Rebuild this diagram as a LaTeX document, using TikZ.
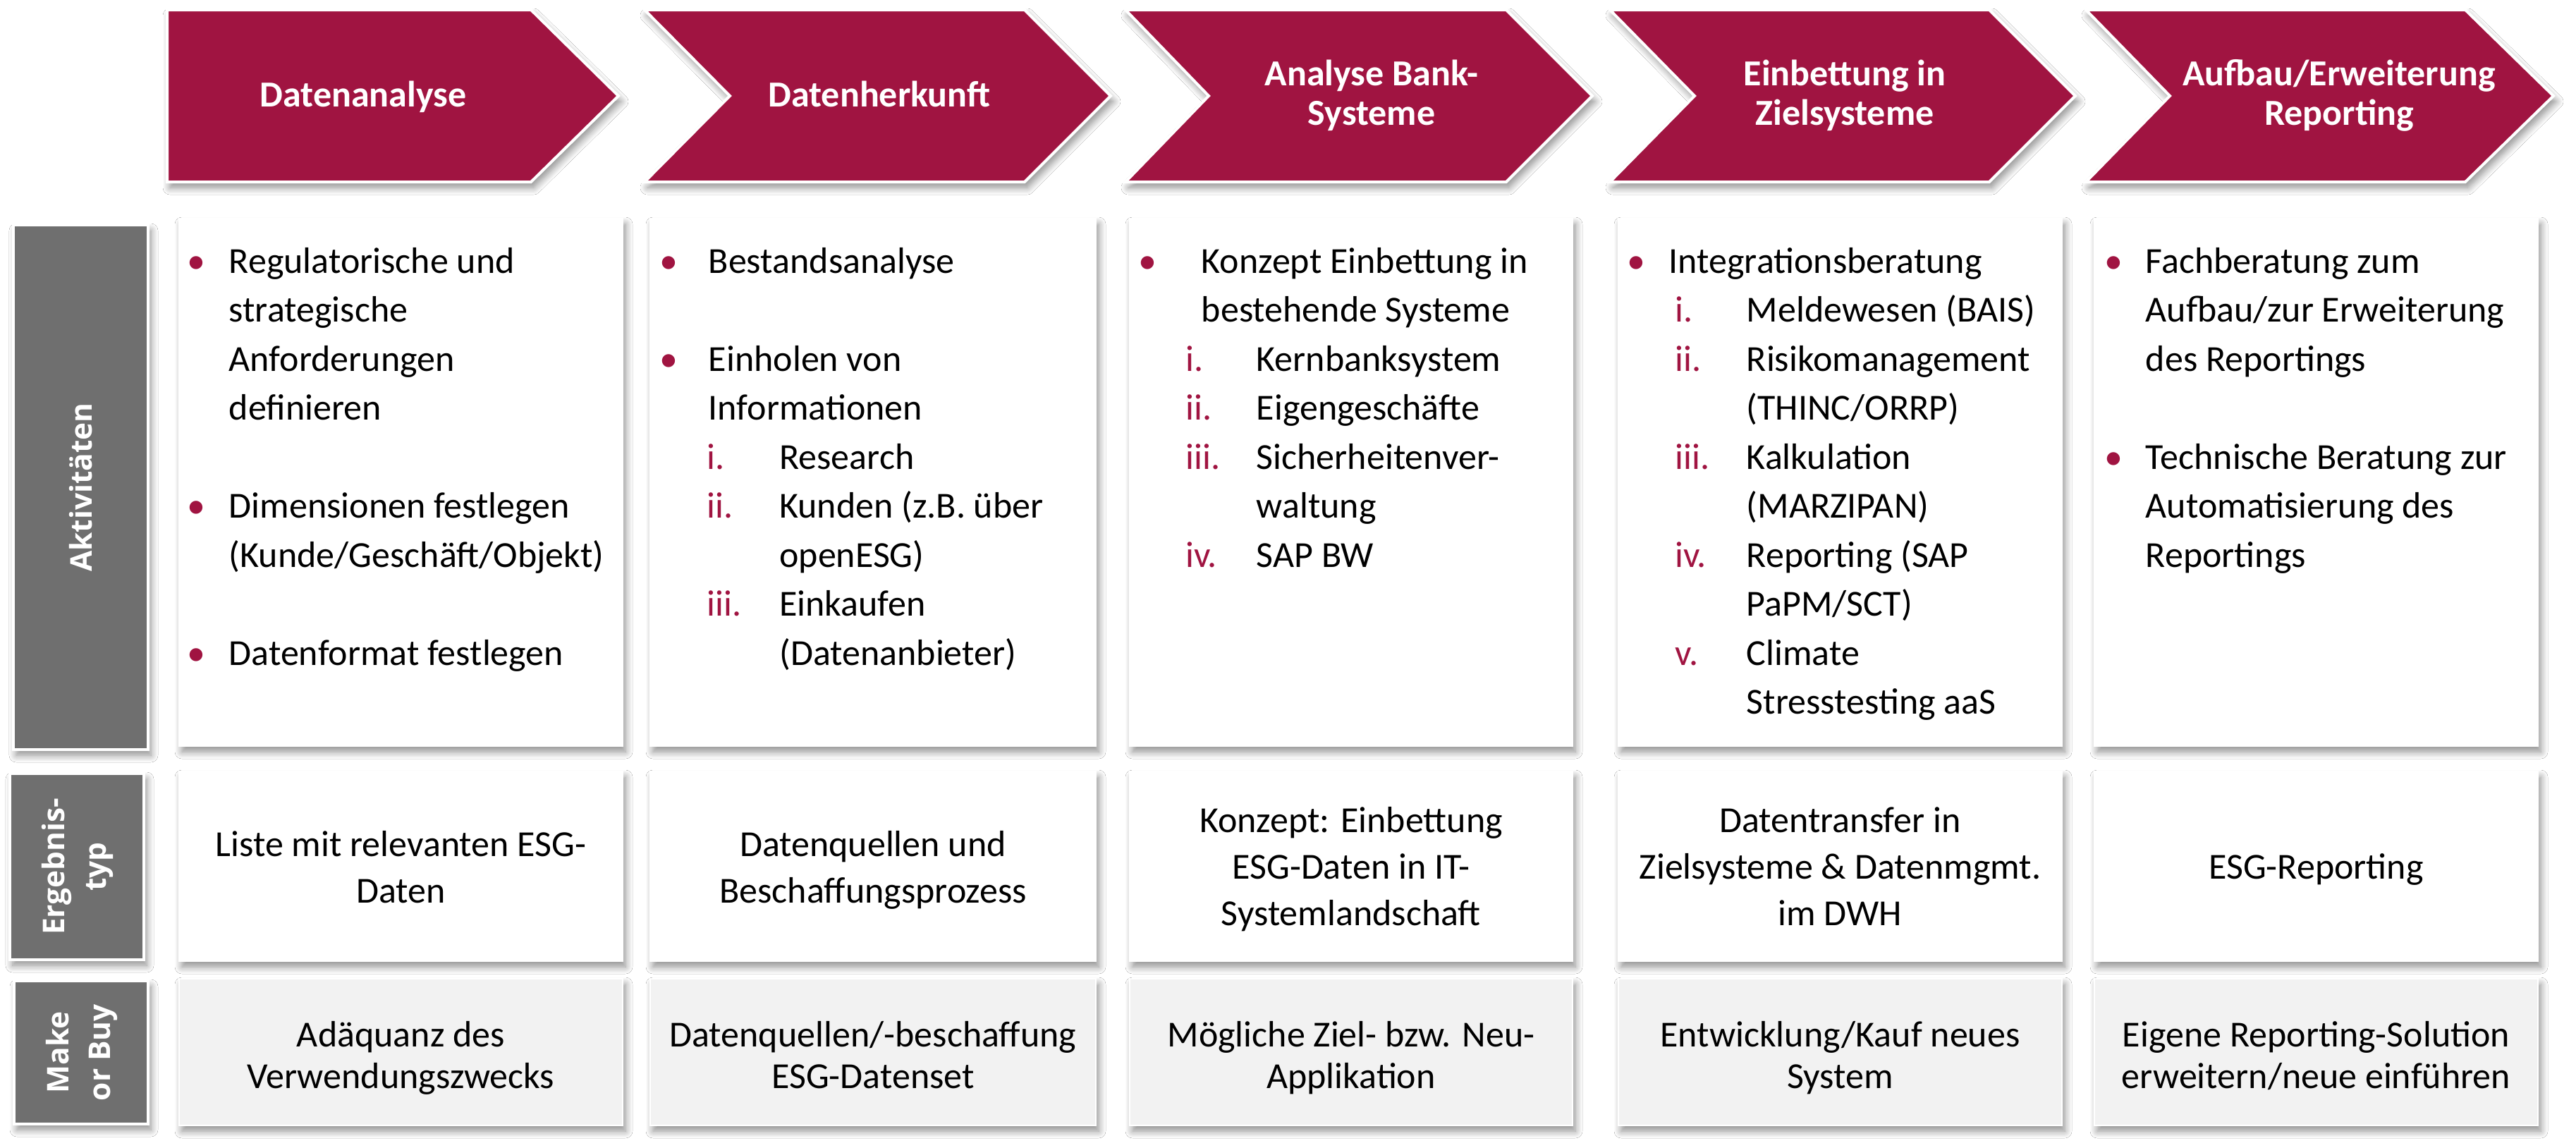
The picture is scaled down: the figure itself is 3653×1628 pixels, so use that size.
\documentclass[tikz,border=0pt]{standalone}
\usepackage{fontspec}
\setmainfont{Carlito}
\newfontfamily\labelfont{Open Sans}
\usetikzlibrary{fit,shadows.blur}
\definecolor{wine}{HTML}{A01441}
\definecolor{lblgray}{HTML}{6F6F6F}
\definecolor{mkgray}{HTML}{F2F2F2}
\newdimen\unitpx \unitpx=0.25pt
\newlength\bOff \newlength\tInd \newlength\nInd \newlength\sInd
\newcommand\colset[4]{\setlength\bOff{#1\unitpx}\setlength\tInd{#2\unitpx}\setlength\nInd{#3\unitpx}\setlength\sInd{#4\unitpx}}
\newcommand\bull[1]{\rlap{\hspace*{\bOff}\makebox[0pt]{\textcolor{wine}{\textbullet}}}\hspace*{\tInd}#1}
\newcommand\contl[1]{\hspace*{\tInd}#1}
\newcommand\numl[2]{\rlap{\hspace*{\nInd}\textcolor{wine}{#1}}\hspace*{\sInd}#2}
\newcommand\subl[1]{\hspace*{\sInd}#1}
\tikzset{
  shad/.style={blur shadow={shadow xshift=1pt, shadow yshift=-2pt, shadow blur radius=2.5pt, shadow blur steps=10, shadow opacity=45}},
  chev/.style={fill=wine, draw=white, line width=1pt, line join=miter, shad},
  box/.style={inner sep=0pt, draw=white, line width=0.6pt, shad},
  actbox/.style={box, fill=white},
  erbox/.style={box, fill=white},
  mkbox/.style={box, fill=mkgray},
  lblbox/.style={box, fill=lblgray, draw=white, line width=1pt},
  headtext/.style={anchor=base, inner sep=0pt, text=white, font=\fontsize{13pt}{14pt}\selectfont\bfseries},
  acttext/.style={anchor=base west, inner sep=0pt, text=black, font=\fontsize{13pt}{17.375pt}\selectfont},
  ertext/.style={anchor=base, inner sep=0pt, text=black, font=\fontsize{13pt}{16.5pt}\selectfont},
  mktext/.style={anchor=base, inner sep=0pt, text=black, font=\fontsize{13pt}{14.75pt}\selectfont},
  lbltext/.style={anchor=center, inner sep=0pt, rotate=90, text=white, font=\fontsize{10.6pt}{14.75pt}\selectfont\labelfont\bfseries}
}
\begin{document}
\begin{tikzpicture}[x=0.25pt, y=-0.25pt]
\useasboundingbox (0,0) rectangle (3653,1628);
\fill[white] (0,0) rectangle (3653,1628);

% chevrons
\path[chev] (237,14) -- (753,14) -- (877,136) -- (753,258) -- (237,258) -- cycle;
\path[chev] (914,14) -- (1453,14) -- (1575,136) -- (1453,258) -- (914,258) -- (1035,136) -- cycle;
\path[chev] (1596,14) -- (2136,14) -- (2258,136) -- (2136,258) -- (1596,258) -- (1714,136) -- cycle;
\path[chev] (2283,14) -- (2821,14) -- (2943,136) -- (2821,258) -- (2283,258) -- (2403,136) -- cycle;
\path[chev] (2958,14) -- (3496,14) -- (3621,136) -- (3496,258) -- (2958,258) -- (3077,136) -- cycle;

\node[headtext] (h1) at (515,151) {\begin{tabular}[t]{@{}c@{}}Datenanalyse\end{tabular}};
\node[headtext] (h2) at (1247,151) {\begin{tabular}[t]{@{}c@{}}Datenherkunft\end{tabular}};
\node[headtext] (h3) at (1945,121) {\begin{tabular}[t]{@{}c@{}}Analyse Bank-\\Systeme\end{tabular}};
\node[headtext] (h4) at (2616,121) {\begin{tabular}[t]{@{}c@{}}Einbettung in\\Zielsysteme\end{tabular}};
\node[headtext] (h5) at (3317,121) {\begin{tabular}[t]{@{}c@{}}Aufbau/Erweiterung\\Reporting\end{tabular}};

% row labels
\node[lblbox, fit={(19,319) (210,1063)}] (la) {};
\node[lblbox, fit={(14,1097) (204,1361)}] (le) {};
\node[lblbox, fit={(20,1391) (210,1594)}] (lm) {};
\node[lbltext] (lat) at (la.center) {Aktivitäten};
\node[lbltext] (let) at (le.center) {\begin{tabular}{@{}c@{}}Ergebnis-\\typ\end{tabular}};
\node[lbltext] (lmt) at (lm.center) {\begin{tabular}{@{}c@{}}Make\\or Buy\end{tabular}};

% activity boxes
\node[actbox, fit={(254,310) (883,1058)}] (a1) {};
\node[actbox, fit={(922,310) (1554,1058)}] (a2) {};
\node[actbox, fit={(1602,310) (2230,1058)}] (a3) {};
\node[actbox, fit={(2295,310) (2924,1058)}] (a4) {};
\node[actbox, fit={(2970,310) (3599,1058)}] (a5) {};

% result boxes
\node[erbox, fit={(254,1094) (883,1363)}] (e1) {};
\node[erbox, fit={(922,1094) (1554,1363)}] (e2) {};
\node[erbox, fit={(1602,1094) (2230,1363)}] (e3) {};
\node[erbox, fit={(2295,1094) (2924,1363)}] (e4) {};
\node[erbox, fit={(2970,1094) (3599,1363)}] (e5) {};

% make-or-buy boxes
\node[mkbox, fit={(254,1388) (883,1596)}] (m1) {};
\node[mkbox, fit={(922,1388) (1554,1596)}] (m2) {};
\node[mkbox, fit={(1602,1388) (2230,1596)}] (m3) {};
\node[mkbox, fit={(2295,1388) (2924,1596)}] (m4) {};
\node[mkbox, fit={(2970,1388) (3599,1596)}] (m5) {};

% activity texts
\node[acttext] (t1) at (254,387) {\colset{23.5}{70}{79}{181}%
\begin{tabular}[t]{@{}l@{}}
\bull{Regulatorische und}\\
\contl{strategische}\\
\contl{Anforderungen}\\
\contl{definieren}\\
\\
\bull{Dimensionen festlegen}\\
\contl{(Kunde/Geschäft/Objekt)}\\
\\
\bull{Datenformat festlegen}
\end{tabular}};

\node[acttext] (t2) at (922,387) {\colset{26}{82}{80}{182.5}%
\begin{tabular}[t]{@{}l@{}}
\bull{Bestandsanalyse}\\
\\
\bull{Einholen von}\\
\contl{Informationen}\\
\numl{i.}{Research}\\
\numl{ii.}{Kunden (z.B. über}\\
\subl{openESG)}\\
\numl{iii.}{Einkaufen}\\
\subl{(Datenanbieter)}
\end{tabular}};

\node[acttext] (t3) at (1602,387) {\colset{25}{101}{78.5}{179}%
\begin{tabular}[t]{@{}l@{}}
\bull{Konzept Einbettung in}\\
\contl{bestehende Systeme}\\
\numl{i.}{Kernbanksystem}\\
\numl{ii.}{Eigengeschäfte}\\
\numl{iii.}{Sicherheitenver-}\\
\subl{waltung}\\
\numl{iv.}{SAP BW}
\end{tabular}};

\node[acttext] (t4) at (2295,387) {\colset{25}{71}{80}{181}%
\begin{tabular}[t]{@{}l@{}}
\bull{Integrationsberatung}\\
\numl{i.}{Meldewesen (BAIS)}\\
\numl{ii.}{Risikomanagement}\\
\subl{(THINC/ORRP)}\\
\numl{iii.}{Kalkulation}\\
\subl{(MARZIPAN)}\\
\numl{iv.}{Reporting (SAP}\\
\subl{PaPM/SCT)}\\
\numl{v.}{Climate}\\
\subl{Stresstesting aaS}
\end{tabular}};

\node[acttext] (t5) at (2970,387) {\colset{27}{72}{80}{181}%
\begin{tabular}[t]{@{}l@{}}
\bull{Fachberatung zum}\\
\contl{Aufbau/zur Erweiterung}\\
\contl{des Reportings}\\
\\
\bull{Technische Beratung zur}\\
\contl{Automatisierung des}\\
\contl{Reportings}
\end{tabular}};

% result texts
\node[ertext] (et1) at (568.5,1214) {\begin{tabular}[t]{@{}c@{}}Liste mit relevanten ESG-\\Daten\end{tabular}};
\node[ertext] (et2) at (1238,1214) {\begin{tabular}[t]{@{}c@{}}Datenquellen und\\Beschaffungsprozess\end{tabular}};
\node[ertext] (et3) at (1916,1180) {\begin{tabular}[t]{@{}c@{}}Konzept: Einbettung\\ESG-Daten in IT-\\Systemlandschaft\end{tabular}};
\node[ertext] (et4) at (2609.5,1180) {\begin{tabular}[t]{@{}c@{}}Datentransfer in\\Zielsysteme \& Datenmgmt.\\im DWH\end{tabular}};
\node[ertext] (et5) at (3284.5,1246) {\begin{tabular}[t]{@{}c@{}}ESG-Reporting\end{tabular}};

% make or buy texts
\node[mktext] (mt1) at (568.5,1484) {\begin{tabular}[t]{@{}c@{}}Adäquanz des\\Verwendungszwecks\end{tabular}};
\node[mktext] (mt2) at (1238,1484) {\begin{tabular}[t]{@{}c@{}}Datenquellen/-beschaffung\\ESG-Datenset\end{tabular}};
\node[mktext] (mt3) at (1916,1484) {\begin{tabular}[t]{@{}c@{}}Mögliche Ziel- bzw. Neu-\\Applikation\end{tabular}};
\node[mktext] (mt4) at (2609.5,1484) {\begin{tabular}[t]{@{}c@{}}Entwicklung/Kauf neues\\System\end{tabular}};
\node[mktext] (mt5) at (3284.5,1484) {\begin{tabular}[t]{@{}c@{}}Eigene Reporting-Solution\\erweitern/neue einführen\end{tabular}};
\end{tikzpicture}
\end{document}
